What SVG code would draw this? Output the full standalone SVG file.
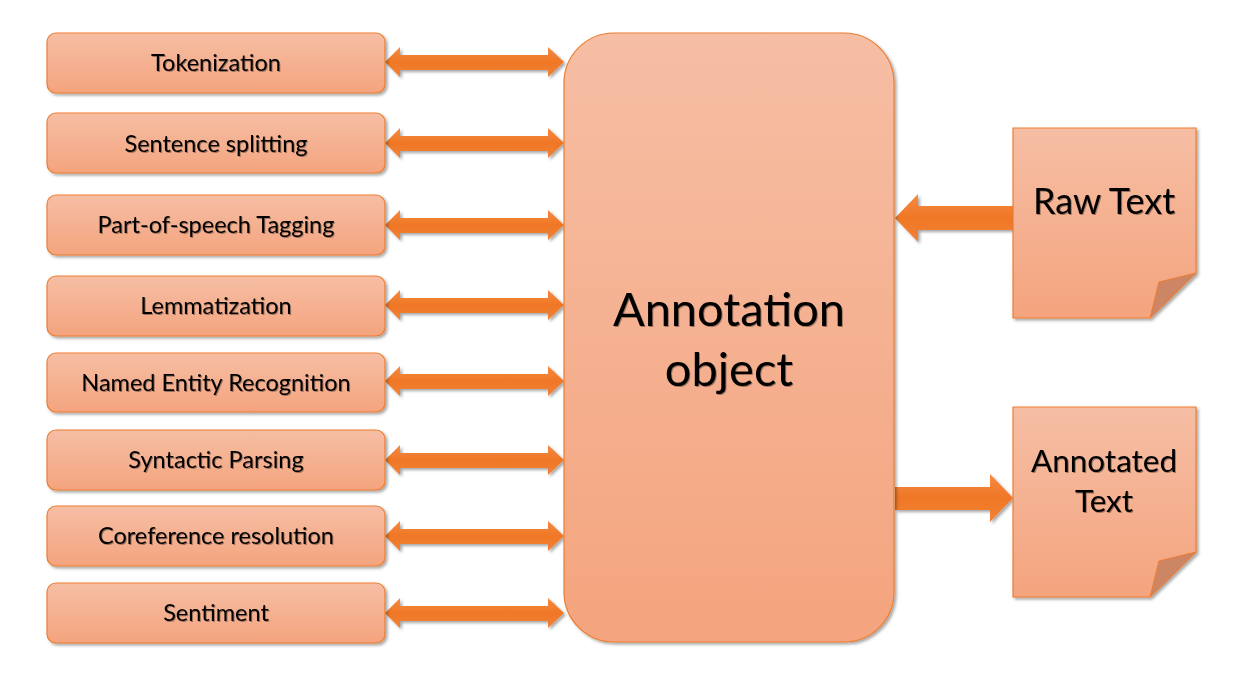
<svg xmlns="http://www.w3.org/2000/svg" width="1245" height="688" viewBox="0 0 1245 688">
<defs>
<linearGradient id="gFill" x1="0" y1="0" x2="0" y2="1">
<stop offset="0" stop-color="#F6BEA4"/>
<stop offset="1" stop-color="#F4A47E"/>
</linearGradient>
<linearGradient id="gArrow" x1="0" y1="0" x2="0" y2="1">
<stop offset="0" stop-color="#F58A42"/>
<stop offset="0.5" stop-color="#EF7726"/>
<stop offset="1" stop-color="#F18236"/>
</linearGradient>
<filter id="shadow" x="-10%" y="-10%" width="130%" height="130%">
<feDropShadow dx="2" dy="2" stdDeviation="1.5" flood-color="#000" flood-opacity="0.35"/>
</filter>
<filter id="tshadow" x="-5%" y="-20%" width="110%" height="150%">
<feDropShadow dx="1" dy="1" stdDeviation="0.6" flood-color="#000" flood-opacity="0.35"/>
</filter>
</defs>
<style>
.box{fill:url(#gFill);stroke:#ED7D31;stroke-width:1.2;filter:url(#shadow)}
.fold{fill:#CC8665;stroke:#ED7D31;stroke-width:1}
.arr{fill:url(#gArrow);filter:url(#shadow)}
text{font-family:Lato,"Open Sans",sans-serif;fill:#000;text-anchor:middle;filter:url(#tshadow)}
.lbl{font-size:23.5px}
.big{font-size:47px}
.raw{font-size:36px}
.doc{font-size:31.5px}
</style>
<rect width="1245" height="688" fill="#fff"/>
<g id="connectors">
<polygon class="arr" points="385,62 400,47 400,55 548,55 548,47 564,62 548,77 548,70 400,70 400,77"/>
<polygon class="arr" points="385,143 400,128 400,136 548,136 548,128 564,143 548,158 548,151 400,151 400,158"/>
<polygon class="arr" points="385,225 400,210 400,218 548,218 548,210 564,225 548,240 548,233 400,233 400,240"/>
<polygon class="arr" points="385,305 400,290 400,298 548,298 548,290 564,305 548,320 548,313 400,313 400,320"/>
<polygon class="arr" points="385,381 400,366 400,374 548,374 548,366 564,381 548,396 548,389 400,389 400,396"/>
<polygon class="arr" points="385,460 400,445 400,453 548,453 548,445 564,460 548,475 548,468 400,468 400,475"/>
<polygon class="arr" points="385,536 400,521 400,529 548,529 548,521 564,536 548,551 548,544 400,544 400,551"/>
<polygon class="arr" points="385,613 400,598 400,606 548,606 548,598 564,613 548,628 548,621 400,621 400,628"/>
<polygon class="arr" points="895,218 918,194 918,206 1013,206 1013,230 918,230 918,242"/>
<polygon class="arr" points="895,487 990,487 990,474 1013,498 990,522 990,510 895,510"/>
</g>
<g id="n1"><rect class="box" x="47" y="33" width="338" height="60" rx="9"/><text class="lbl" x="216" y="71">Tokenization</text></g>
<g id="n2"><rect class="box" x="47" y="113" width="338" height="60" rx="9"/><text class="lbl" x="216" y="152">Sentence splitting</text></g>
<g id="n3"><rect class="box" x="47" y="195" width="338" height="60" rx="9"/><text class="lbl" x="216" y="233">Part-of-speech Tagging</text></g>
<g id="n4"><rect class="box" x="47" y="276" width="338" height="60" rx="9"/><text class="lbl" x="216" y="314">Lemmatization</text></g>
<g id="n5"><rect class="box" x="47" y="353" width="338" height="59" rx="9"/><text class="lbl" x="216" y="391">Named Entity Recognition</text></g>
<g id="n6"><rect class="box" x="47" y="430" width="338" height="60" rx="9"/><text class="lbl" x="216" y="468">Syntactic Parsing</text></g>
<g id="n7"><rect class="box" x="47" y="506" width="338" height="60" rx="9"/><text class="lbl" x="216" y="544">Coreference resolution</text></g>
<g id="n8"><rect class="box" x="47" y="583" width="338" height="60" rx="9"/><text class="lbl" x="216" y="621">Sentiment</text></g>
<g id="annotation"><rect class="box" x="564" y="33" width="330" height="609" rx="50"/><text class="big" x="729" y="326">Annotation</text><text class="big" x="729" y="386">object</text></g>
<g id="raw"><path class="box" d="M1013,128 H1196 V273 L1150,318 H1013 Z"/><path class="fold" d="M1196,273 L1159,282 L1150,318 Z"/><text class="raw" x="1104" y="214">Raw Text</text></g>
<g id="annotated"><path class="box" d="M1013,407 H1196 V552 L1150,597 H1013 Z"/><path class="fold" d="M1196,552 L1159,561 L1150,597 Z"/><text class="doc" x="1104" y="472">Annotated</text><text class="doc" x="1104" y="512">Text</text></g>
</svg>
